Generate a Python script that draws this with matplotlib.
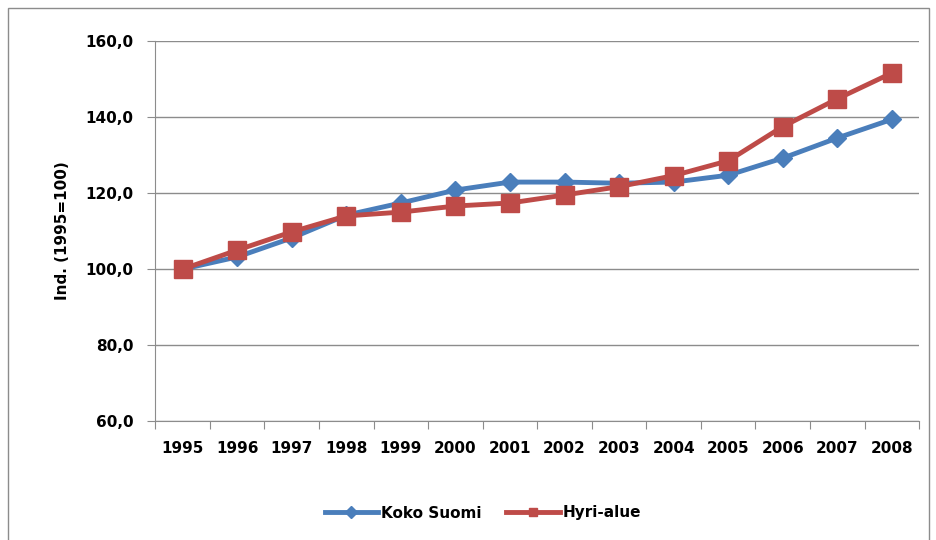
import matplotlib.pyplot as plt
import matplotlib.patches as patches
import numpy as np

years = ["1995", "1996", "1997", "1998", "1999", "2000", "2001",
         "2002", "2003", "2004", "2005", "2006", "2007", "2008"]
kokoSuomi = [100.0, 103.2, 108.2, 114.2, 117.4, 120.8, 122.9,
             122.9, 122.6, 122.9, 124.7, 129.2, 134.5, 139.4]
hyriAlue = [100.0, 105.0, 109.8, 114.0, 115.0, 116.6, 117.4,
            119.5, 121.7, 124.6, 128.5, 137.5, 144.8, 151.6]
yTicks = [60, 80, 100, 120, 140, 160]

plt.rcParams['font.family'] = ['DejaVu Sans']

fig = plt.figure(figsize=(9.36, 5.4), dpi=100)
ax = fig.add_axes([0.166, 0.220, 0.816, 0.704])

# kehys koko kuvan ympärille
fig.patches.append(patches.Rectangle((0.009, -0.05), 0.983, 1.035, transform=fig.transFigure,
                                     fill=False, edgecolor="#8c8c8c", linewidth=1.0))

x = np.arange(len(years))
ax.plot(x, kokoSuomi, color="#4a7ebb", linewidth=3.5, marker="D", markersize=9,
        label="Koko Suomi", zorder=3)
ax.plot(x, hyriAlue, color="#be4b48", linewidth=3.5, marker="s", markersize=12.5,
        label="Hyri-alue", zorder=4)

ax.set_xlim(-0.5, len(years) - 0.5)
ax.set_ylim(60, 160)
ax.set_yticks(yTicks)
ax.set_yticklabels([f"{v:.1f}".replace(".", ",") for v in yTicks],
                   fontsize=11, fontweight="bold")
ax.yaxis.grid(True, color="#8c8c8c", linewidth=1.0)
ax.set_axisbelow(True)

# tikit kategorioiden väliin
ax.set_xticks(np.arange(-0.5, len(years) + 0.5, 1))
ax.set_xticklabels([])
ax.set_xticks(x, minor=True)
ax.set_xticklabels(years, minor=True, fontsize=11, fontweight="bold")
ax.tick_params(axis="x", which="major", length=6, color="#8c8c8c")
ax.tick_params(axis="x", which="minor", length=0, pad=14)
ax.tick_params(axis="y", length=6, color="#8c8c8c", pad=10)

for side in ["top", "right"]:
    ax.spines[side].set_visible(False)
ax.spines["left"].set_color("#8c8c8c")
ax.spines["bottom"].set_color("#8c8c8c")

ax.set_ylabel("Ind. (1995=100)", fontsize=11, fontweight="bold", labelpad=11)

leg = fig.legend(loc="center", bbox_to_anchor=(0.516, 0.05), ncol=2, frameon=False,
                 fontsize=11, handlelength=3.5, columnspacing=1.6, handletextpad=0.2)
for h in leg.legend_handles:
    h.set_markersize(6)
for t in leg.get_texts():
    t.set_fontweight("bold")

fig.savefig("out.png", dpi=100)
